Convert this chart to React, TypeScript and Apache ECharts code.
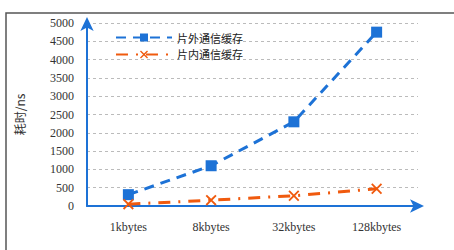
import React, { useEffect, useRef } from "react";
import * as echarts from "echarts";

const categories = ["1kbytes", "8kbytes", "32kbytes", "128kbytes"];
const offChip = [310, 1100, 2300, 4750];
const onChip = [50, 160, 280, 470];
const seriesNames = ["片外通信缓存", "片内通信缓存"];
const yAxisName = "耗时/ns";

const BLUE = "#1d72d6";
const ORANGE = "#f05a0e";
const CROSS = "path://M0,1.2L1.2,0L5,3.8L8.8,0L10,1.2L6.2,5L10,8.8L8.8,10L5,6.2L1.2,10L0,8.8L3.8,5Z";

export default function App() {
  const ref = useRef<HTMLDivElement>(null);
  useEffect(() => {
    if (!ref.current) return;
    const chart = echarts.init(ref.current, undefined, { renderer: "svg" });
    const serif = "Liberation Serif";
    chart.setOption({
      animation: false,
      backgroundColor: "#ffffff",
      graphic: [
        {
          type: "rect",
          shape: { x: 6, y: 13, width: 470, height: 260 },
          style: { fill: "none", stroke: "#555", lineWidth: 1.5 },
          silent: true,
        },
      ],
      legend: {
        orient: "vertical",
        left: 110,
        top: 27,
        itemWidth: 56,
        itemHeight: 10,
        itemGap: 6,
        textStyle: { fontFamily: "Noto Sans CJK SC", fontSize: 11, color: "#222" },
        data: seriesNames,
      },
      grid: { left: 87, right: 36, top: 23, bottom: 44 },
      xAxis: {
        type: "category",
        data: categories,
        boundaryGap: true,
        axisLine: {
          lineStyle: { color: BLUE, width: 2 },
          symbol: ["none", "arrow"],
          symbolSize: [10, 14],
          symbolOffset: [0, 6],
        },
        axisTick: { show: false },
        axisLabel: { fontFamily: serif, fontSize: 12, color: "#333", margin: 15 },
      },
      yAxis: {
        type: "value",
        min: 0,
        max: 5000,
        interval: 500,
        name: yAxisName,
        nameLocation: "middle",
        nameRotate: 90,
        nameGap: 62,
        nameTextStyle: { fontFamily: "Noto Sans CJK SC", fontSize: 12, color: "#333" },
        axisLine: {
          show: true,
          lineStyle: { color: BLUE, width: 2 },
          symbol: ["none", "arrow"],
          symbolSize: [10, 14],
          symbolOffset: [0, 6],
        },
        axisTick: { show: false },
        axisLabel: {
          fontFamily: serif,
          fontSize: 12,
          color: "#333",
          margin: 13,
          formatter: (v: number) => String(v),
        },
        splitLine: { lineStyle: { color: "#bbb", type: [3, 3], width: 1 } },
      },
      series: [
        {
          name: seriesNames[0],
          type: "line",
          data: offChip,
          symbol: "rect",
          symbolSize: 11,
          itemStyle: { color: BLUE },
          lineStyle: { color: BLUE, width: 3, type: [10, 7] },
        },
        {
          name: seriesNames[1],
          type: "line",
          data: onChip,
          symbol: CROSS,
          symbolSize: 11,
          itemStyle: { color: ORANGE },
          lineStyle: { color: ORANGE, width: 3, type: [12, 8, 2, 8] },
        },
      ],
    });
    return () => chart.dispose();
  }, []);
  return (
    <div
      ref={ref}
      style={{ position: "fixed", left: 0, top: 0, width: 454, height: 250 }}
    />
  );
}
